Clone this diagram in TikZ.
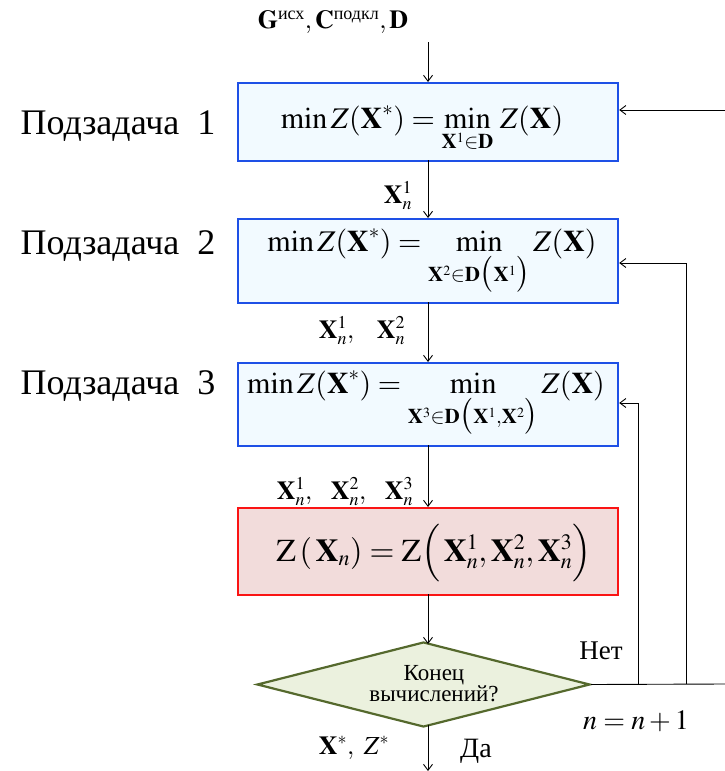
\documentclass[tikz,border=0pt]{standalone}
\usepackage{amsmath}
\usepackage{mathptmx}
\usepackage{fontspec}
\setmainfont{Liberation Serif}
\newfontfamily\tnr{Liberation Serif}
\usetikzlibrary{shapes.geometric,arrows.meta}
\DeclareMathSizes{30}{30}{21}{14}
\DeclareMathSizes{32}{32}{22}{15}
\DeclareMathSizes{26}{26}{18}{13}
\DeclareMathSizes{28}{28}{19.5}{14}
\definecolor{boxblue}{RGB}{30,80,230}
\definecolor{fillblue}{RGB}{242,250,255}
\definecolor{boxred}{RGB}{250,20,20}
\definecolor{fillred}{RGB}{242,220,219}
\definecolor{dgreen}{RGB}{85,105,45}
\definecolor{fillgreen}{RGB}{235,241,222}
\tikzset{
  bluebox/.style={draw=boxblue, fill=fillblue, line width=2.2pt, minimum width=380pt, inner sep=0pt, anchor=north west},
  redbox/.style={draw=boxred, fill=fillred, line width=2.2pt, minimum width=380pt, inner sep=0pt, anchor=north west},
  decision/.style={diamond, draw=dgreen, fill=fillgreen, line width=2.2pt, minimum width=333pt, minimum height=85pt, aspect=3.9, inner sep=0pt},
  conn/.style={line width=0.9pt},
  arr/.style={conn, -{Straight Barb[length=6pt,width=9pt]}},
  lbl/.style={inner sep=0pt, font=\tnr},
}
\begin{document}
\begin{tikzpicture}[x=1pt,y=-1pt]
\useasboundingbox (0,0) rectangle (724,771);
% input
\node[lbl] (inp) at (333,22) {\fontsize{26}{30}\selectfont $\mathbf{G}^{\text{исх}},\mathbf{C}^{\text{подкл}},\mathbf{D}$};
\coordinate (inpend) at (428,42);
% boxes
\node[bluebox, minimum height=78pt] (b1) at (237,82) {};
\node[lbl] (f1) at (422,129) {\fontsize{30}{34}\selectfont $\displaystyle \min Z(\mathbf{X}^{*}) = \min_{\mathbf{X}^{1}\in\mathbf{D}}\, Z(\mathbf{X})$};
\node[bluebox, minimum height=84pt] (b2) at (237,218) {};
\node[lbl] (f2) at (432,262) {\fontsize{30}{34}\selectfont $\displaystyle \min Z(\mathbf{X}^{*}) = \min_{\mathbf{X}^{2}\in\mathbf{D}\bigl(\mathbf{X}^{1}\bigr)} Z(\mathbf{X})$};
\node[bluebox, minimum height=83pt] (b3) at (237,362) {};
\node[lbl] (f3) at (426,404) {\fontsize{30}{34}\selectfont $\displaystyle \min Z(\mathbf{X}^{*}) = \min_{\mathbf{X}^{3}\in\mathbf{D}\bigl(\mathbf{X}^{1},\mathbf{X}^{2}\bigr)} Z(\mathbf{X})$};
\node[redbox, minimum height=87pt] (b4) at (237,507) {};
\node[lbl] (f4) at (434,553) {\fontsize{32}{36}\selectfont $\mathrm{Z}\,(\,\mathbf{X}_{n}) = \mathrm{Z}\Bigl(\,\mathbf{X}_{n}^{1},\mathbf{X}_{n}^{2},\mathbf{X}_{n}^{3}\Bigr)$};
\node[decision] (d) at (423.5,684.5) {};
\node[lbl, align=center] (dt) at (434,684) {\fontsize{23}{26}\selectfont Конец\\\fontsize{23}{26}\selectfont вычислений?};
% left labels
\node[lbl] (p1) at (118,126) {\fontsize{36}{40}\selectfont Подзадача\ \ 1};
\node[lbl] (p2) at (118,246) {\fontsize{36}{40}\selectfont Подзадача\ \ 2};
\node[lbl] (p3) at (118,386) {\fontsize{36}{40}\selectfont Подзадача\ \ 3};
% flow labels
\node[lbl] (l1) at (398,196) {\fontsize{26}{30}\selectfont $\mathbf{X}_{n}^{1}$};
\node[lbl] (l2) at (362,331) {\fontsize{26}{30}\selectfont $\mathbf{X}_{n}^{1},\hspace{0.75em}\mathbf{X}_{n}^{2}$};
\node[lbl] (l3) at (345,492) {\fontsize{26}{30}\selectfont $\mathbf{X}_{n}^{1},\hspace{0.6em}\mathbf{X}_{n}^{2},\hspace{0.6em}\mathbf{X}_{n}^{3}$};
\node[lbl] (no) at (601,651) {\fontsize{27}{30}\selectfont Нет};
\node[lbl] (inc) at (636,721) {\fontsize{28}{32}\selectfont $n = n+1$};
\node[lbl] (xz) at (354,748) {\fontsize{26}{30}\selectfont $\mathbf{X}^{*},\ Z^{*}$};
\node[lbl] (yes) at (476,751) {\fontsize{28}{32}\selectfont Да};
% connectors
\coordinate (out) at (428,771);
\coordinate (c1) at (638,684);
\coordinate (c2) at (686,684);
\coordinate (c3) at (725,684);
\coordinate (dtop) at (428,644);
\coordinate (dbot) at (428,725);
\draw[arr] (inpend) -- (428,82);
\draw[arr] (428,160) -- (428,218);
\draw[arr] (428,302) -- (428,362);
\draw[arr] (428,445) -- (428,507);
\draw[arr] (428,594) -- (dtop);
\draw[arr] (dbot) -- (out);
\draw[conn] (d.east) -- (c3);
\draw[arr] (c1) -- (638,403) -- (b3.east |- 0,403);
\draw[arr] (c2) -- (686,263) -- (b2.east |- 0,263);
\draw[arr] (c3) -- (725,110) -- (b1.east |- 0,110);
\end{tikzpicture}
\end{document}
